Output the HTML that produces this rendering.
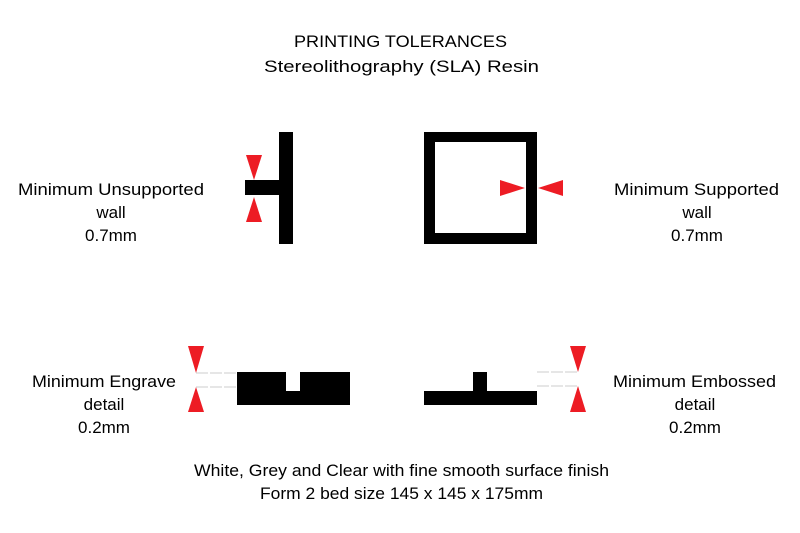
<!DOCTYPE html>
<html><head><style>html,body{margin:0;padding:0;background:#fff;}svg{display:block}</style></head>
<body>
<svg width="800" height="533" viewBox="0 0 800 533" xmlns="http://www.w3.org/2000/svg" font-family="Liberation Sans, sans-serif" font-size="17" fill="#000">
<text x="294" y="47" textLength="213" lengthAdjust="spacingAndGlyphs">PRINTING TOLERANCES</text>
<text x="264" y="72" textLength="275" lengthAdjust="spacingAndGlyphs">Stereolithography (SLA) Resin</text>

<text x="18" y="195" textLength="186" lengthAdjust="spacingAndGlyphs">Minimum Unsupported</text>
<text x="111" y="218" text-anchor="middle">wall</text>
<text x="111" y="241" text-anchor="middle">0.7mm</text>

<text x="614" y="195" textLength="165" lengthAdjust="spacingAndGlyphs">Minimum Supported</text>
<text x="697" y="218" text-anchor="middle">wall</text>
<text x="697" y="241" text-anchor="middle">0.7mm</text>

<text x="32" y="387" textLength="144" lengthAdjust="spacingAndGlyphs">Minimum Engrave</text>
<text x="104" y="410" text-anchor="middle">detail</text>
<text x="104" y="433" text-anchor="middle">0.2mm</text>

<text x="613" y="387" textLength="163" lengthAdjust="spacingAndGlyphs">Minimum Embossed</text>
<text x="695" y="410" text-anchor="middle">detail</text>
<text x="695" y="433" text-anchor="middle">0.2mm</text>

<text x="194" y="476" textLength="415" lengthAdjust="spacingAndGlyphs">White, Grey and Clear with fine smooth surface finish</text>
<text x="260" y="499" textLength="283" lengthAdjust="spacingAndGlyphs">Form 2 bed size 145 x 145 x 175mm</text>

<rect x="279" y="132" width="14" height="112"/>
<rect x="245" y="180" width="34" height="15"/>
<polygon points="246,155 262,155 254,180" fill="#ed1c24"/>
<polygon points="246,222 262,222 254,197" fill="#ed1c24"/>

<path d="M424,132 H537 V244 H424 Z M435,142 V233 H526 V142 Z" fill-rule="evenodd"/>
<polygon points="500,180 500,196 525,188" fill="#ed1c24"/>
<polygon points="563,180 563,196 538,188" fill="#ed1c24"/>

<path d="M237,372 H286 V391 H300 V372 H350 V405 H237 Z"/>
<line x1="196" y1="373" x2="237" y2="373" stroke="#ccc" stroke-width="1" stroke-dasharray="12,2"/>
<line x1="196" y1="387" x2="237" y2="387" stroke="#ccc" stroke-width="1" stroke-dasharray="12,2"/>
<polygon points="188,346 204,346 196,373" fill="#ed1c24"/>
<polygon points="188,412 204,412 196,387" fill="#ed1c24"/>

<path d="M424,391 H473 V372 H487 V391 H537 V405 H424 Z"/>
<line x1="537" y1="372" x2="578" y2="372" stroke="#ccc" stroke-width="1" stroke-dasharray="12,2"/>
<line x1="537" y1="386" x2="578" y2="386" stroke="#ccc" stroke-width="1" stroke-dasharray="12,2"/>
<polygon points="570,346 586,346 578,372" fill="#ed1c24"/>
<polygon points="570,412 586,412 578,386" fill="#ed1c24"/>
</svg>
</body></html>
